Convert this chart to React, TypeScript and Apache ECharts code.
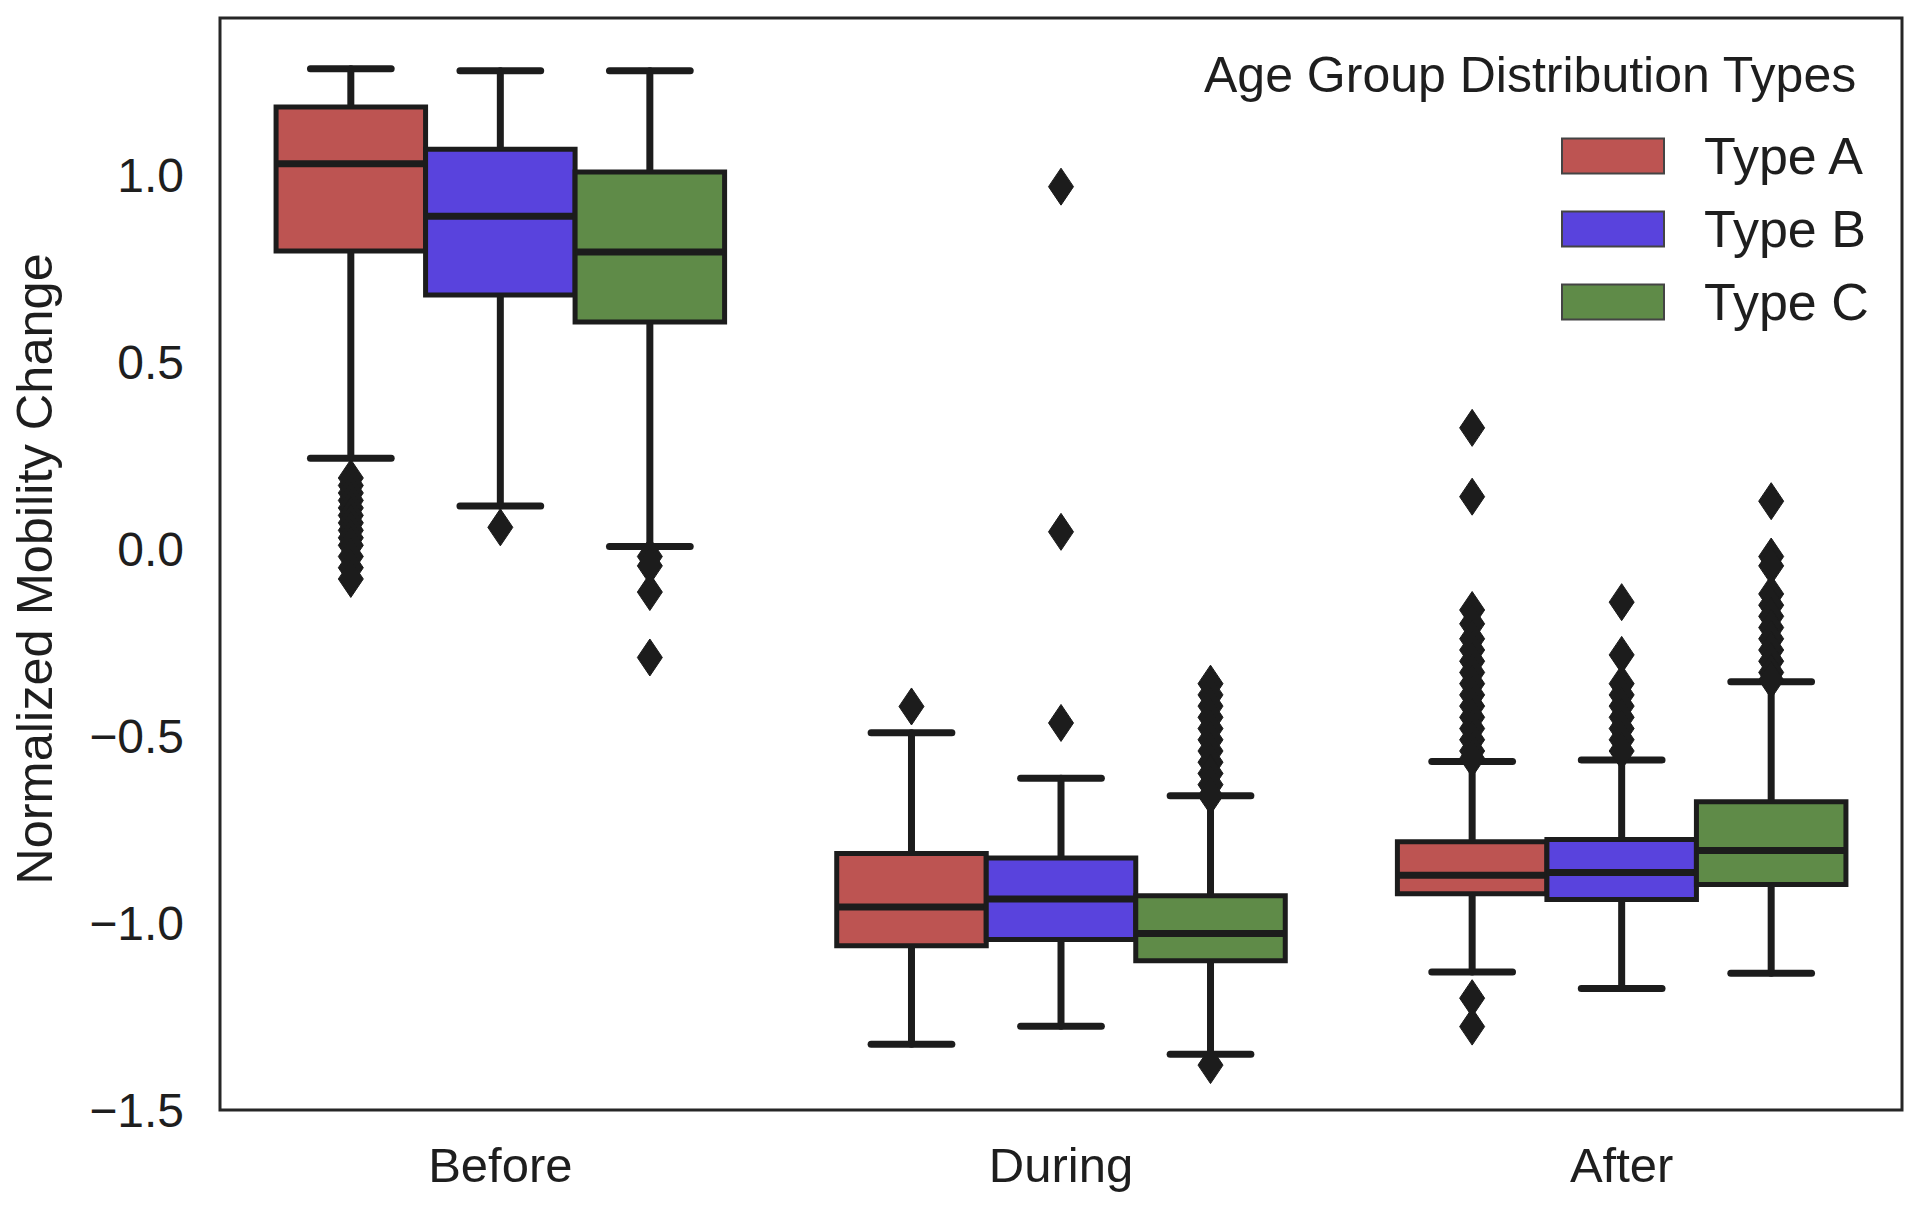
import React, { useEffect, useRef } from "react";
import * as echarts from "echarts";

const categories = ["Before", "During", "After"];
const typeNames = ["Type A", "Type B", "Type C"];
const typeColors = ["#BD5452", "#5943DD", "#5F8B48"];
const yTicks = [-1.5, -1.0, -0.5, 0.0, 0.5, 1.0];

// per category: [lower whisker, Q1, median, Q3, upper whisker]
const typeABoxes = [
  [0.243, 0.797, 1.03, 1.182, 1.284],
  [-1.324, -1.061, -0.957, -0.814, -0.491],
  [-1.131, -0.922, -0.872, -0.783, -0.568],
];
const typeBBoxes = [
  [0.115, 0.679, 0.89, 1.069, 1.279],
  [-1.276, -1.044, -0.936, -0.826, -0.613],
  [-1.175, -0.937, -0.865, -0.777, -0.564],
];
const typeCBoxes = [
  [0.007, 0.607, 0.794, 1.008, 1.279],
  [-1.351, -1.101, -1.028, -0.927, -0.66],
  [-1.134, -0.897, -0.806, -0.676, -0.355],
];

// outliers per category
const typeAOutliers = [
  [0.19, 0.17, 0.15, 0.13, 0.11, 0.09, 0.07, 0.05, 0.03, 0.01, -0.02, -0.05, -0.08],
  [-0.421],
  [0.324, 0.14, -0.163, -0.2, -0.24, -0.27, -0.3, -0.33, -0.36, -0.39, -0.42, -0.45, -0.48, -0.51, -0.54, -0.56, -1.201, -1.277],
];
const typeBOutliers = [
  [0.058],
  [0.969, 0.046, -0.465],
  [-0.142, -0.283, -0.36, -0.39, -0.42, -0.45, -0.48, -0.51, -0.54],
];
const typeCOutliers = [
  [-0.02, -0.045, -0.115, -0.29],
  [-0.36, -0.39, -0.42, -0.45, -0.48, -0.51, -0.54, -0.57, -0.6, -0.63, -0.66, -1.38],
  [0.128, -0.02, -0.045, -0.12, -0.15, -0.18, -0.21, -0.24, -0.27, -0.3, -0.33, -0.35],
];

const allBoxes = [typeABoxes, typeBBoxes, typeCBoxes];
const allOutliers = [typeAOutliers, typeBOutliers, typeCOutliers];

const FONT = "'Liberation Sans', Arial, Helvetica, sans-serif";
const INK = "#1c1c1c";
const TEXT = "#1e1e1e";

function boxRenderer(slot: number) {
  return (params: any, api: any) => {
    const cat = api.value(0);
    const lo = api.value(1);
    const q1 = api.value(2);
    const med = api.value(3);
    const q3 = api.value(4);
    const hi = api.value(5);
    const band = api.size([1, 0])[0];
    const boxW = (band * 0.8) / 3;
    const base = api.coord([cat, med]);
    const cx = base[0] + (slot - 1) * boxW;
    const yLo = api.coord([cat, lo])[1];
    const yQ1 = api.coord([cat, q1])[1];
    const yMed = base[1];
    const yQ3 = api.coord([cat, q3])[1];
    const yHi = api.coord([cat, hi])[1];
    const capHalf = boxW * 0.27;
    const lineStyle = { stroke: INK, lineWidth: 7, lineCap: "round" };
    return {
      type: "group",
      children: [
        { type: "line", shape: { x1: cx, y1: yQ3, x2: cx, y2: yHi }, style: lineStyle },
        { type: "line", shape: { x1: cx, y1: yQ1, x2: cx, y2: yLo }, style: lineStyle },
        { type: "line", shape: { x1: cx - capHalf, y1: yHi, x2: cx + capHalf, y2: yHi }, style: lineStyle },
        { type: "line", shape: { x1: cx - capHalf, y1: yLo, x2: cx + capHalf, y2: yLo }, style: lineStyle },
        {
          type: "rect",
          shape: { x: cx - boxW / 2, y: yQ3, width: boxW, height: yQ1 - yQ3 },
          style: { fill: api.visual("color"), stroke: INK, lineWidth: 5 },
        },
        {
          type: "line",
          shape: { x1: cx - boxW / 2, y1: yMed, x2: cx + boxW / 2, y2: yMed },
          style: { stroke: INK, lineWidth: 7 },
        },
      ],
    };
  };
}

function outlierRenderer(slot: number) {
  return (params: any, api: any) => {
    const cat = api.value(0);
    const v = api.value(1);
    const band = api.size([1, 0])[0];
    const boxW = (band * 0.8) / 3;
    const p = api.coord([cat, v]);
    const cx = p[0] + (slot - 1) * boxW;
    const cy = p[1];
    const hw = 12.5;
    const hh = 18.5;
    return {
      type: "polygon",
      shape: { points: [[cx, cy - hh], [cx + hw, cy], [cx, cy + hh], [cx - hw, cy]] },
      style: { fill: INK, stroke: INK, lineWidth: 1 },
    };
  };
}

export default function App() {
  const ref = useRef<HTMLDivElement>(null);
  useEffect(() => {
    document.body.style.margin = "0";
    if (!ref.current) return;
    const chart = echarts.init(ref.current, undefined, { renderer: "svg" });

    const series: any[] = [];
    typeNames.forEach((name, t) => {
      series.push({
        name,
        type: "custom",
        renderItem: boxRenderer(t),
        itemStyle: { color: typeColors[t] },
        encode: { x: 0, y: [1, 2, 3, 4, 5] },
        data: allBoxes[t].map((b, i) => [i, ...b]),
        z: 2,
      });
    });
    typeNames.forEach((name, t) => {
      const pts: number[][] = [];
      allOutliers[t].forEach((vals, i) => vals.forEach((v) => pts.push([i, v])));
      series.push({
        name: name + " outliers",
        type: "custom",
        renderItem: outlierRenderer(t),
        itemStyle: { color: INK },
        encode: { x: 0, y: 1 },
        data: pts,
        z: 3,
      });
    });

    chart.setOption({
      animation: false,
      backgroundColor: "#ffffff",
      textStyle: { fontFamily: FONT },
      grid: {
        left: 220,
        right: 18,
        top: 18,
        bottom: 100,
        show: true,
        borderColor: "#262626",
        borderWidth: 3,
        backgroundColor: "#ffffff",
      },
      legend: {
        orient: "vertical",
        left: 1556,
        top: 125,
        itemWidth: 102,
        itemHeight: 35,
        itemGap: 21,
        icon: "rect",
        itemStyle: { borderColor: "#444444", borderWidth: 2 },
        textStyle: { fontSize: 52, color: TEXT, fontFamily: FONT, padding: [0, 0, 0, 35] },
        data: typeNames.map((n, t) => ({ name: n, itemStyle: { color: typeColors[t] } })),
      },
      graphic: [
        {
          type: "text",
          left: 1204,
          top: 50,
          style: { text: "Age Group Distribution Types", font: `50px ${FONT}`, fill: TEXT },
        },
      ],
      xAxis: {
        type: "category",
        data: categories,
        axisLine: { show: false },
        axisTick: { show: false },
        splitLine: { show: false },
        axisLabel: { fontSize: 49, color: TEXT, margin: 30, fontFamily: FONT },
      },
      yAxis: {
        type: "value",
        min: -1.5,
        max: 1.42,
        interval: 0.5,
        name: "Normalized Mobility Change",
        nameLocation: "middle",
        nameGap: 160,
        nameTextStyle: { fontSize: 50.5, color: TEXT, fontFamily: FONT, padding: [0, 10, 0, 0] },
        axisLine: { show: false },
        axisTick: { show: false },
        splitLine: { show: false },
        axisLabel: {
          fontSize: 48,
          color: TEXT,
          margin: 36,
          fontFamily: FONT,
          showMaxLabel: false,
          formatter: (v: number) => {
            const hit = yTicks.find((t) => Math.abs(t - v) < 1e-6);
            if (hit === undefined) return "";
            return hit.toFixed(1).replace("-", "\u2212");
          },
        },
      },
      series,
    });
    return () => chart.dispose();
  }, []);
  return <div ref={ref} style={{ position: "fixed", left: 0, top: 0, width: 1920, height: 1210 }} />;
}
